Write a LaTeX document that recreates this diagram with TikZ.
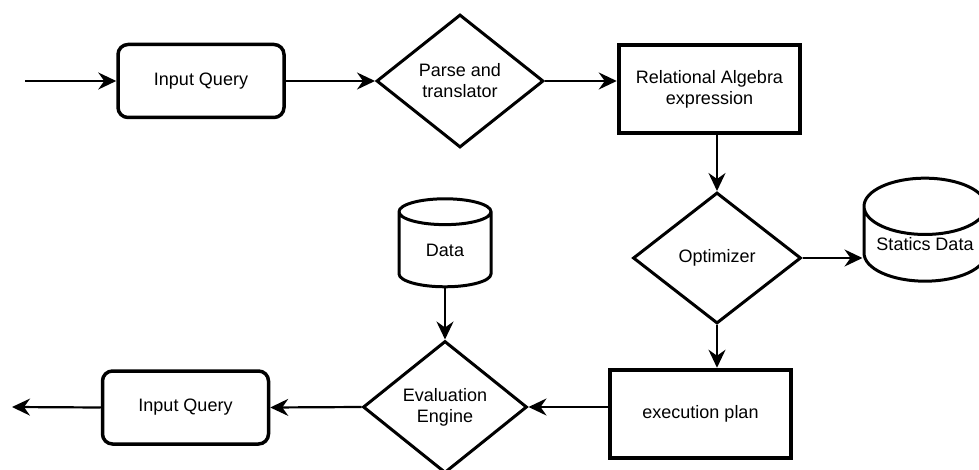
\documentclass[tikz,border=0pt]{standalone}
\usepackage{fontspec}
\setmainfont{Liberation Sans}
\usetikzlibrary{arrows.meta,shapes.geometric}

\tikzset{
    every node/.style={font=\fontsize{18}{21}\selectfont, align=center, inner sep=0pt},
    roundbox/.style={rectangle, draw, rounded corners=10pt, line width=3.5pt, minimum width=166pt, minimum height=73pt},
    plainbox/.style={rectangle, draw, line width=4.5pt, minimum width=181pt, minimum height=88pt},
    decision/.style={diamond, draw, line width=3pt, minimum width=#1},
    store/.style={cylinder, shape border rotate=90, draw, line width=3pt},
    flow/.style={line width=2.2pt, -{Stealth[length=18pt, width=17pt, inset=6pt]}}
}

\begin{document}
\begin{tikzpicture}[x=1pt, y=-1pt]
    \useasboundingbox (0,0) rectangle (979,470);
    \clip (0,0) rectangle (979,470);

    % top row
    \coordinate (start) at (25,81);
    \node(query) [roundbox] at (201,81) {Input Query};
    \node(parse) [decision=167pt, minimum height=133pt] at (460,81) {Parse and\\translator};
    \node(relalg) [plainbox] at (709.5,89) {Relational Algebra\\expression};

    % middle row
    \node(optim) [decision=168pt, minimum height=131pt] at (717,258) {Optimizer};
    \node(stats) [store, minimum width=122pt, minimum height=103pt, aspect=0.58] at (925,244.5) {Statics Data};
    \node(data) [store, minimum width=92pt, minimum height=88pt, aspect=0.68] at (445,250) {Data};

    % bottom row
    \node(plan) [plainbox] at (700.5,414) {execution plan};
    \node(engine) [decision=164pt, minimum height=132pt] at (445,407) {Evaluation\\Engine};
    \node(answer) [roundbox] at (185.5,407.5) {Input Query};
    \coordinate (finish) at (12,407);

    \draw[flow] (start) -- (query);
    \draw[flow] (query) -- (parse);
    \draw[flow] (parse.east) -- (parse.east -| relalg.west);
    \draw[flow] (optim.north |- relalg.south) -- (optim.north);
    \draw[flow] (optim.east) -- (optim.east -| stats.west);
    \draw[flow] (optim.south) -- (optim.south |- plan.north);
    \draw[flow] (engine.east -| plan.west) -- (engine.east);
    \draw[flow] (data.south) -- (engine.north);
    \draw[flow] (engine.west) -- (answer.east);
    \draw[flow] (answer.west) -- (finish);
\end{tikzpicture}
\end{document}
